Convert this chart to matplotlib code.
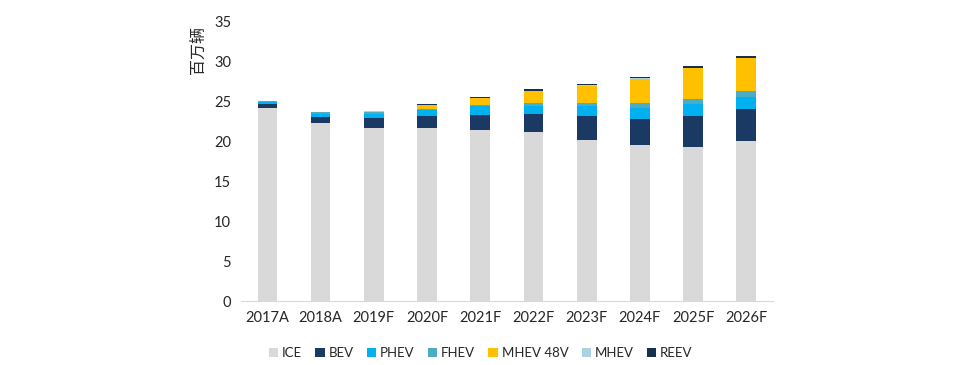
import numpy as np
import matplotlib.pyplot as plt

years = ["2017A", "2018A", "2019F", "2020F", "2021F",
         "2022F", "2023F", "2024F", "2025F", "2026F"]

# million vehicles
ice = [24.2, 22.3, 21.7, 21.7, 21.45, 21.1, 20.2, 19.5, 19.25, 20.0]
bev = [0.5, 0.75, 1.15, 1.4, 1.85, 2.3, 2.9, 3.3, 3.85, 4.0]
phev = [0.2, 0.4, 0.55, 0.75, 1.05, 1.05, 1.35, 1.4, 1.6, 1.55]
fhev = [0.1, 0.2, 0.2, 0.17, 0.17, 0.37, 0.3, 0.55, 0.58, 0.7]
mhev48 = [0.0, 0.05, 0.1, 0.5, 0.87, 1.45, 2.15, 3.05, 3.85, 4.1]
mhev = [0.0, 0.0, 0.02, 0.03, 0.03, 0.03, 0.15, 0.05, 0.05, 0.05]
reev = [0.0, 0.0, 0.05, 0.1, 0.1, 0.18, 0.05, 0.2, 0.22, 0.22]

series = [
    ("ICE", ice, "#D9D9D9"),
    ("BEV", bev, "#1B3A63"),
    ("PHEV", phev, "#00B0F0"),
    ("FHEV", fhev, "#4BACC6"),
    ("MHEV 48V", mhev48, "#FFC000"),
    ("MHEV", mhev, "#A9D3E0"),
    ("REEV", reev, "#17304F"),
]

plt.rcParams['font.family'] = ['Lato', 'Noto Sans CJK SC', 'DejaVu Sans']

fig = plt.figure(figsize=(9.71, 3.65), dpi=100)
ax = fig.add_axes([0.248, 0.175, 0.548, 0.767])

x = np.arange(len(years))
bottom = np.zeros(len(years))
for name, vals, color in series:
    ax.bar(x, vals, width=0.37, bottom=bottom, color=color, label=name)
    bottom += np.array(vals)

ax.set_xlim(-0.5, len(years) - 0.5)
ax.set_ylim(0, 35)
ax.set_yticks(range(0, 36, 5))
ax.set_xticks(x)
ax.set_xticklabels(years)
ax.tick_params(axis='both', length=0, labelsize=10.5, colors='#262626')
ax.tick_params(axis='y', pad=7)
ax.tick_params(axis='x', pad=7)

for s in ['top', 'right', 'left']:
    ax.spines[s].set_visible(False)
ax.spines['bottom'].set_color('#D9D9D9')

fig.text(0.204, 0.862, "百万辆", rotation=90, ha='center', va='center',
         fontsize=11.5, family=['Noto Sans CJK SC'], color='#262626')

handles, labels = ax.get_legend_handles_labels()
ax.legend(handles, labels, loc='center', bbox_to_anchor=(0.451, -0.185),
          ncol=7, frameon=False, fontsize=9.5, handlelength=0.7,
          handleheight=0.7, handletextpad=0.3, columnspacing=1.0,
          labelcolor='#262626')

fig.savefig("out.png", dpi=100)
